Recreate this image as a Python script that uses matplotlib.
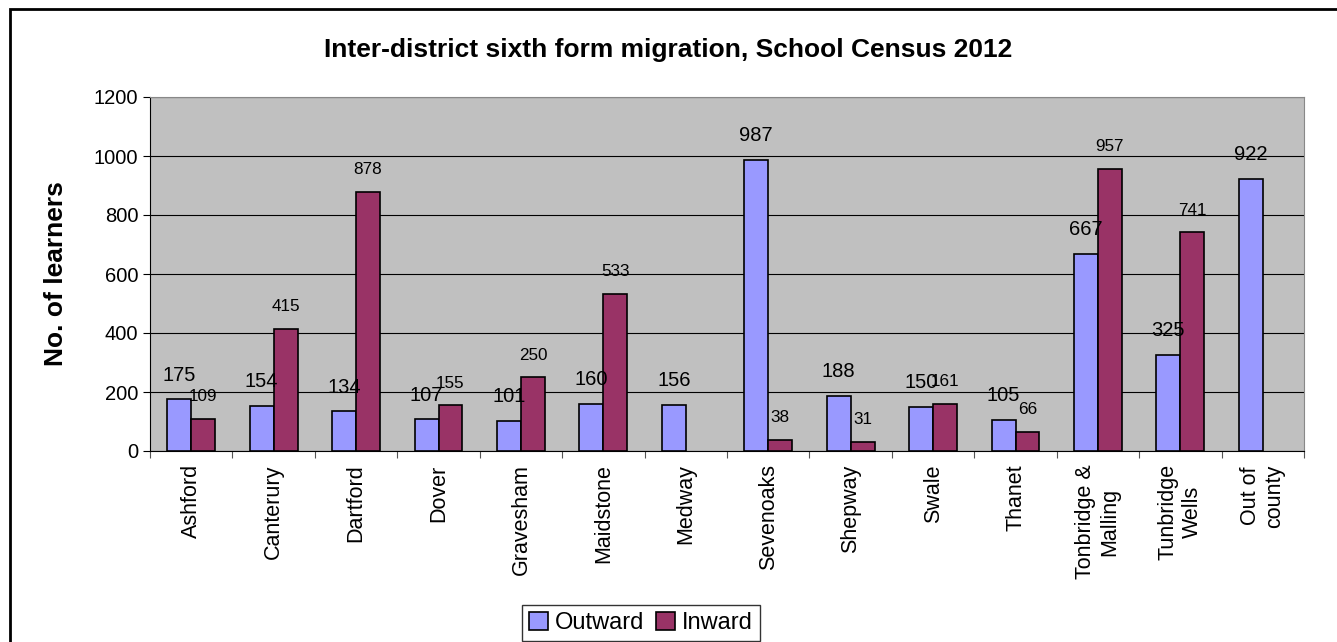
import numpy as np
import matplotlib.pyplot as plt
from matplotlib.patches import Rectangle

plt.rcParams['font.family'] = ['Liberation Sans', 'DejaVu Sans']

# data
districts = ["Ashford", "Canterury", "Dartford", "Dover", "Gravesham", "Maidstone",
             "Medway", "Sevenoaks", "Shepway", "Swale", "Thanet",
             "Tonbridge &\nMalling", "Tunbridge\nWells", "Out of\ncounty"]
outward = [175, 154, 134, 107, 101, 160, 156, 987, 188, 150, 105, 667, 325, 922]
inward = [109, 415, 878, 155, 250, 533, None, 38, 31, 161, 66, 957, 741, None]

fig = plt.figure(figsize=(13.37, 6.42), dpi=100)
ax = fig.add_axes([150 / 1337, 1 - 451 / 642, 1154 / 1337, 354 / 642])
ax.set_facecolor("#c0c0c0")

x = np.arange(len(districts))
w = 0.29
out_bars = ax.bar(x - w / 2, outward, w, color="#9999ff", edgecolor="black",
                  linewidth=1.2, label="Outward", zorder=3)
in_x = [xi + w / 2 for xi, v in zip(x, inward) if v is not None]
in_v = [v for v in inward if v is not None]
in_bars = ax.bar(in_x, in_v, w, color="#993366", edgecolor="black",
                 linewidth=1.2, label="Inward", zorder=3)

for b, v in zip(out_bars, outward):
    ax.text(b.get_x() + b.get_width() / 2, v + 50, str(v), ha="center",
            va="bottom", fontsize=14.5, zorder=4)
for b, v in zip(in_bars, in_v):
    ax.text(b.get_x() + b.get_width() / 2, v + 50, str(v), ha="center",
            va="bottom", fontsize=12.3, zorder=4)

ax.set_xlim(-0.5, len(districts) - 0.5)
ax.set_ylim(0, 1200)
ax.set_yticks(range(0, 1201, 200))
ax.yaxis.grid(True, color="black", linewidth=0.8, zorder=1)
ax.tick_params(axis="y", labelsize=14.5, length=5, direction="out")

# category labels between boundary ticks
ax.set_xticks(np.arange(-0.5, len(districts), 1.0))
ax.set_xticklabels([])
ax.tick_params(axis="x", length=5, direction="out", color="#555555")
for xi, name in zip(x, districts):
    ax.text(xi, -45, name, rotation=90, ha="center", va="top", fontsize=15.5,
            multialignment="center")

for s in ["top", "right"]:
    ax.spines[s].set_color("#888888")
ax.spines["left"].set_color("black")
ax.spines["bottom"].set_color("black")

ax.set_ylabel("No. of learners", fontsize=19, fontweight="bold")
ax.yaxis.set_label_coords(-0.071, 0.5)
fig.text(0.5, 1 - 50 / 642, "Inter-district sixth form migration, School Census 2012",
         ha="center", va="center", fontsize=19, fontweight="bold")

leg = fig.legend(loc="center", bbox_to_anchor=(641 / 1337, 1 - 623 / 642),
                 ncol=2, fontsize=17, frameon=True, fancybox=False,
                 handlelength=0.8, handleheight=0.8, handletextpad=0.3,
                 columnspacing=0.5, borderpad=0.3)
leg.get_frame().set_edgecolor("black")
leg.get_frame().set_linewidth(1.0)

fig.patches.append(Rectangle((10 / 1337, -0.1), 1.2, 1.1 - 9 / 642,
                             transform=fig.transFigure, fill=False,
                             edgecolor="black", linewidth=2))

fig.savefig("out.png", dpi=100)
